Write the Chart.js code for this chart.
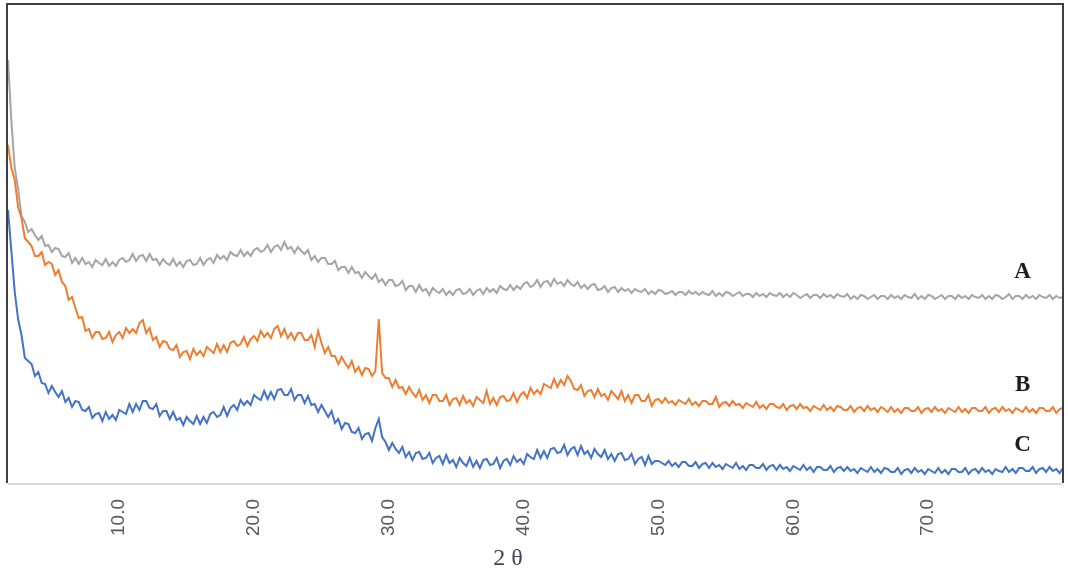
<!DOCTYPE html>
<html>
<head>
<meta charset="utf-8">
<script src="https://cdn.jsdelivr.net/npm/chart.js@4/dist/chart.umd.min.js"></script>
<style>
  html, body { margin: 0; padding: 0; background: #fff; }
  #xrd { display: block; }
</style>
</head>
<body>
<canvas id="xrd" width="1068" height="574"></canvas>
<script>
// scan grid: 2-theta from 1.75 to 80 deg in 0.25 deg steps
var scanStart = 1.75;
var scanStep = 0.25;

var seriesNames = ['A', 'B', 'C'];
var seriesColors = ['#a5a5a5', '#ed7d31', '#4472c4'];
var tickValues = [10, 20, 30, 40, 50, 60, 70];

// intensities (a.u.), one row = 4 deg
var sampleA = [
  423, 362, 315, 294, 267, 261, 251, 254, 248, 243, 247, 237, 238, 231, 235, 234,
  227, 226, 230, 220, 225, 219, 225, 219, 221, 216, 223, 220, 218, 224, 217, 221,
  217, 223, 225, 221, 223, 229, 222, 227, 228, 222, 229, 223, 224, 218, 224, 220,
  218, 224, 217, 221, 216, 222, 223, 218, 219, 225, 218, 223, 225, 220, 228, 224,
  227, 223, 231, 228, 227, 233, 227, 231, 227, 233, 235, 231, 233, 238, 231, 236,
  238, 233, 241, 234, 236, 230, 236, 232, 229, 233, 223, 227, 221, 225, 225, 219,
  219, 222, 213, 216, 216, 210, 216, 210, 211, 205, 211, 207, 204, 209, 201, 204,
  198, 203, 203, 197, 198, 202, 193, 197, 197, 191, 198, 192, 194, 188, 195, 192,
  190, 194, 188, 192, 188, 193, 194, 189, 190, 194, 188, 192, 194, 189, 195, 191,
  194, 190, 197, 194, 193, 198, 193, 197, 194, 199, 201, 196, 198, 203, 196, 201,
  202, 197, 204, 199, 201, 197, 203, 199, 197, 201, 195, 198, 194, 198, 199, 193,
  194, 197, 191, 195, 196, 191, 195, 192, 194, 190, 194, 192, 191, 194, 189, 192,
  189, 193, 192, 189, 190, 192, 188, 191, 191, 188, 192, 189, 191, 188, 191, 189,
  188, 192, 187, 190, 187, 191, 190, 187, 189, 191, 187, 189, 189, 186, 190, 187,
  189, 186, 190, 188, 187, 190, 186, 189, 186, 190, 188, 185, 187, 189, 185, 188,
  188, 185, 189, 186, 188, 185, 189, 187, 186, 189, 184, 187, 184, 188, 187, 184,
  186, 188, 184, 187, 187, 184, 188, 185, 187, 184, 188, 186, 185, 189, 184, 187,
  184, 188, 187, 184, 186, 188, 184, 187, 187, 184, 188, 185, 187, 184, 188, 186,
  185, 188, 184, 187, 184, 188, 187, 184, 186, 189, 184, 187, 187, 184, 188, 185,
  187, 184, 188, 186, 185, 188, 184, 187, 185, 186
];

var sampleB = [
  338, 315, 303, 276, 265, 245, 241, 237, 227, 227, 231, 218, 221, 219, 208, 213,
  201, 197, 183, 186, 175, 165, 166, 152, 154, 145, 151, 151, 144, 145, 151, 141,
  148, 151, 145, 155, 150, 154, 150, 160, 163, 150, 155, 143, 146, 136, 142, 141,
  134, 133, 138, 126, 131, 132, 124, 134, 128, 132, 127, 136, 133, 130, 139, 131,
  138, 131, 140, 142, 137, 139, 146, 137, 144, 147, 142, 152, 146, 150, 145, 154,
  157, 147, 154, 145, 150, 143, 150, 150, 143, 143, 148, 136, 152, 140, 130, 136,
  127, 127, 119, 126, 120, 115, 122, 111, 116, 108, 115, 114, 107, 112, 164, 110,
  105, 105, 96, 103, 95, 96, 89, 96, 90, 86, 93, 83, 88, 80, 88, 88,
  82, 82, 88, 78, 84, 85, 78, 87, 80, 83, 77, 86, 83, 80, 92, 79,
  85, 78, 86, 87, 82, 83, 90, 81, 88, 91, 85, 95, 89, 93, 89, 99,
  97, 95, 104, 96, 103, 98, 107, 102, 94, 93, 98, 87, 92, 93, 86, 94,
  87, 89, 83, 92, 88, 84, 92, 82, 88, 80, 88, 88, 82, 82, 88, 77,
  83, 84, 80, 85, 80, 82, 78, 83, 81, 79, 84, 78, 81, 77, 82, 82,
  79, 79, 86, 76, 80, 81, 77, 82, 78, 79, 75, 80, 78, 76, 81, 75,
  78, 74, 79, 79, 76, 75, 79, 73, 77, 78, 74, 79, 75, 76, 72, 77,
  75, 73, 78, 73, 76, 72, 77, 76, 73, 73, 77, 71, 75, 76, 72, 77,
  73, 75, 71, 76, 74, 71, 76, 71, 74, 70, 75, 75, 72, 72, 76, 70,
  74, 75, 71, 76, 72, 74, 70, 75, 73, 71, 76, 71, 74, 70, 75, 75,
  72, 72, 76, 70, 74, 75, 71, 76, 72, 74, 70, 75, 73, 71, 76, 71,
  74, 70, 75, 75, 72, 72, 76, 70, 74, 75
];

var sampleC = [
  273, 232, 191, 164, 148, 125, 122, 119, 107, 111, 100, 99, 90, 97, 91, 86,
  92, 81, 85, 76, 82, 81, 73, 72, 76, 65, 69, 70, 62, 71, 64, 68,
  63, 73, 71, 69, 79, 71, 79, 73, 82, 82, 75, 74, 79, 67, 72, 72,
  64, 71, 63, 65, 58, 66, 62, 59, 67, 59, 66, 60, 69, 71, 66, 68,
  76, 67, 75, 78, 73, 83, 78, 82, 78, 88, 85, 83, 92, 84, 91, 84,
  93, 94, 88, 88, 94, 83, 88, 88, 80, 87, 78, 79, 71, 78, 72, 66,
  72, 60, 64, 54, 60, 59, 51, 50, 55, 44, 49, 50, 42, 55, 64, 46,
  41, 33, 40, 34, 30, 36, 26, 31, 23, 30, 31, 24, 25, 30, 20, 25,
  27, 19, 28, 20, 23, 16, 25, 20, 17, 25, 16, 22, 15, 23, 24, 18,
  19, 25, 15, 22, 24, 18, 27, 21, 24, 19, 29, 26, 24, 33, 25, 32,
  25, 34, 35, 30, 31, 38, 28, 34, 36, 28, 37, 29, 32, 25, 34, 29,
  26, 33, 24, 29, 22, 29, 30, 23, 24, 29, 19, 24, 26, 18, 27, 19,
  22, 22, 20, 18, 22, 17, 20, 16, 21, 21, 17, 17, 21, 15, 19, 20,
  15, 20, 16, 18, 14, 19, 17, 15, 20, 14, 17, 13, 18, 18, 15, 15,
  19, 13, 17, 18, 13, 18, 14, 16, 12, 17, 15, 13, 18, 13, 16, 11,
  16, 16, 13, 13, 17, 11, 15, 16, 12, 16, 12, 14, 10, 15, 13, 11,
  16, 11, 14, 10, 15, 14, 11, 11, 15, 9, 13, 14, 10, 15, 11, 13,
  9, 14, 12, 10, 15, 10, 13, 9, 14, 14, 11, 11, 15, 9, 13, 14,
  10, 15, 11, 13, 9, 14, 12, 11, 16, 11, 14, 10, 15, 15, 12, 12,
  16, 10, 14, 15, 11, 16, 12, 14, 10, 15
];

var twoTheta = sampleA.map(function (v, i) { return scanStart + i * scanStep; });

function toPoints(values) {
  return values.map(function (v, i) { return { x: twoTheta[i], y: v }; });
}

var samples = [sampleA, sampleB, sampleC];

// plot frame: dark on three sides, light axis line at the bottom
var framePlugin = {
  id: 'frame',
  afterDatasetsDraw: function (chart) {
    var a = chart.chartArea, ctx = chart.ctx;
    ctx.save();
    ctx.strokeStyle = '#3f3f3f';
    ctx.lineWidth = 2;
    ctx.beginPath();
    ctx.moveTo(a.left - 1, a.bottom);
    ctx.lineTo(a.left - 1, a.top - 1);
    ctx.lineTo(a.right, a.top - 1);
    ctx.lineTo(a.right, a.bottom);
    ctx.stroke();
    ctx.strokeStyle = '#d9d9d9';
    ctx.beginPath();
    ctx.moveTo(a.left, a.bottom + 1);
    ctx.lineTo(a.right - 1, a.bottom + 1);
    ctx.stroke();
    ctx.restore();
  }
};

// series letters sit just above the end of each trace, plus the axis title
var labelPlugin = {
  id: 'seriesLabels',
  afterDraw: function (chart) {
    var ctx = chart.ctx, xs = chart.scales.x, ys = chart.scales.y;
    ctx.save();
    ctx.font = 'bold 23px "Liberation Serif", "Times New Roman", serif';
    ctx.fillStyle = '#1c1c28';
    ctx.textAlign = 'center';
    ctx.textBaseline = 'middle';
    samples.forEach(function (s, i) {
      var tail = s.slice(-24);
      var avg = tail.reduce(function (p, c) { return p + c; }, 0) / tail.length;
      ctx.fillText(seriesNames[i], xs.getPixelForValue(77), ys.getPixelForValue(avg) - 25);
    });
    ctx.font = '24px "Liberation Serif", "Times New Roman", serif';
    ctx.fillStyle = '#3e4758';
    var a = chart.chartArea;
    ctx.fillText('2 \u03b8', a.left + (a.right - a.left) * 0.474, 559);
    ctx.restore();
  }
};

new Chart(document.getElementById('xrd').getContext('2d'), {
  type: 'line',
  data: {
    datasets: [2, 1, 0].map(function (i) {
      return {
        label: seriesNames[i],
        data: toPoints(samples[i]),
        borderColor: seriesColors[i],
        borderWidth: 2,
        pointRadius: 0,
        tension: 0,
        fill: false
      };
    })
  },
  options: {
    responsive: false,
    animation: false,
    devicePixelRatio: 1,
    layout: { padding: { left: 8, right: 5, top: 5, bottom: 0 } },
    plugins: { legend: { display: false }, tooltip: { enabled: false } },
    scales: {
      x: {
        type: 'linear',
        min: 1.75,
        max: 80.0,
        grid: { display: false, drawTicks: false },
        border: { display: false },
        afterBuildTicks: function (scale) {
          scale.ticks = tickValues.map(function (v) { return { value: v }; });
        },
        afterFit: function (scale) { scale.height = 91; },
        ticks: {
          autoSkip: false,
          minRotation: 90,
          maxRotation: 90,
          padding: 16,
          color: '#595959',
          font: { family: '"Liberation Sans", Arial, sans-serif', size: 19 },
          callback: function (v) { return Number(v).toFixed(1); }
        }
      },
      y: {
        display: false,
        min: 0,
        max: 478
      }
    }
  },
  plugins: [framePlugin, labelPlugin]
});
</script>
</body>
</html>
